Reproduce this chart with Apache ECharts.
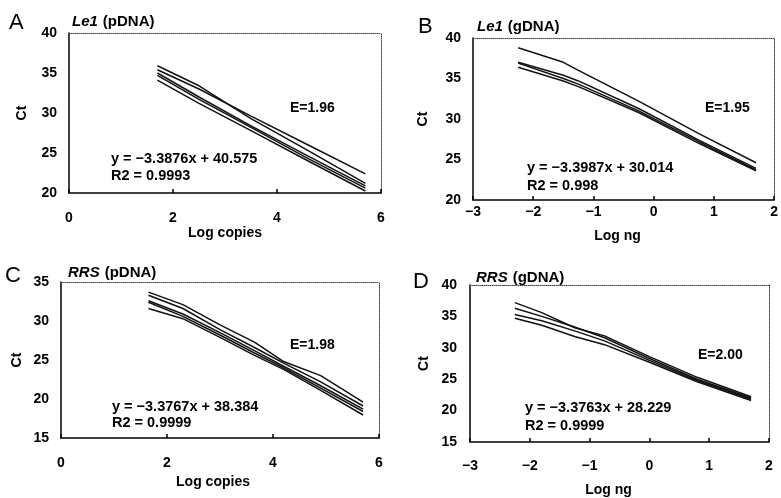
<!DOCTYPE html>
<html><head><meta charset="utf-8">
<script src="https://cdn.jsdelivr.net/npm/echarts@6/dist/echarts.min.js"></script>
<style>html,body{margin:0;padding:0;background:#fff}#c{width:781px;height:498px}</style>
</head><body><div id="c"></div>
<script>
// ---- data ----
const panelA_x = [1.7, 2.5, 3.5, 4.6, 5.7];
const panelA_r1 = [35.9, 33.4, 29.3, 25.3, 21.2];
const panelA_r2 = [35.4, 33.0, 29.6, 26.0, 22.4];
const panelA_r3 = [35.0, 32.0, 28.4, 24.6, 20.9];
const panelA_r4 = [34.7, 31.7, 28.2, 24.3, 20.6];
const panelA_r5 = [34.1, 31.2, 27.8, 24.0, 20.25];

const panelB_x = [-2.25, -1.5, -1.25, -0.25, 0.75, 1.7];
const panelB_r1 = [38.8, 37.0, 36.0, 32.2, 28.2, 24.6];
const panelB_r2 = [37.0, 35.4, 34.7, 31.3, 27.4, 23.9];
const panelB_r3 = [36.9, 35.0, 34.3, 31.0, 27.2, 23.7];
const panelB_r4 = [36.4, 34.7, 34.0, 30.8, 27.0, 23.6];

const panelC_x = [1.65, 2.3, 3.0, 3.65, 4.2, 4.9, 5.7];
const panelC_r1 = [33.7, 32.1, 29.5, 27.3, 24.8, 23.0, 19.6];
const panelC_r2 = [33.3, 31.6, 28.9, 26.6, 24.6, 22.2, 19.1];
const panelC_r3 = [32.6, 30.9, 28.5, 26.2, 24.2, 21.7, 18.7];
const panelC_r4 = [32.4, 30.6, 28.2, 25.9, 24.0, 21.4, 18.4];
const panelC_r5 = [31.6, 30.3, 27.9, 25.6, 23.8, 21.1, 17.95];

const panelD_x = [-2.25, -1.8, -1.25, -0.75, 0, 0.8, 1.7];
const panelD_r1 = [37.2, 35.6, 33.2, 31.9, 28.6, 25.3, 22.2];
const panelD_r2 = [36.3, 35.0, 33.3, 31.6, 28.3, 25.0, 22.0];
const panelD_r3 = [35.3, 34.3, 32.7, 31.1, 28.0, 24.8, 21.8];
const panelD_r4 = [34.7, 33.6, 31.8, 30.5, 27.7, 24.6, 21.6];

const panelLetters = ['A', 'B', 'C', 'D'];
const panelGenes = ['Le1', 'Le1', 'RRS', 'RRS'];
const panelTemplates = ['(pDNA)', '(gDNA)', '(pDNA)', '(gDNA)'];
const xNames = ['Log copies', 'Log ng', 'Log copies', 'Log ng'];
const yName = 'Ct';
const equations = ['y = −3.3876x + 40.575', 'y = −3.3987x + 30.014', 'y = −3.3767x + 38.384', 'y = −3.3763x + 28.229'];
const r2Texts = ['R2 = 0.9993', 'R2 = 0.998', 'R2 = 0.9999', 'R2 = 0.9999'];
const effTexts = ['E=1.96', 'E=1.95', 'E=1.98', 'E=2.00'];
const xRanges = [[0, 6, 2], [-3, 2, 1], [0, 6, 2], [-3, 2, 1]];
const yRanges = [[20, 40, 5], [20, 40, 5], [15, 35, 5], [15, 40, 5]];

// ---- layout ----
const FONT = '"Liberation Sans", Arial, sans-serif';
const grids = [
  {left: 69, top: 33, width: 312, height: 160},
  {left: 473, top: 38, width: 304, height: 162},
  {left: 61, top: 282, width: 318, height: 156},
  {left: 470, top: 285, width: 299, height: 164}
];
const xLabelMargin = [18, 5, 18, 17];
const xNameGap = [30, 29, 37, 41];
const xNamePad = [[0,0,0,0],[0,12,0,0],[0,14,0,0],[0,22,0,0]];
const yLabelMargin = [12, 12, 12, 13];
const yNameGap = [40, 43, 37, 39];
const titlePos = [[72, 13], [477, 18], [68, 264], [476, 269]];

const panelData = [
  [panelA_x, [panelA_r1, panelA_r2, panelA_r3, panelA_r4, panelA_r5]],
  [panelB_x, [panelB_r1, panelB_r2, panelB_r3, panelB_r4]],
  [panelC_x, [panelC_r1, panelC_r2, panelC_r3, panelC_r4, panelC_r5]],
  [panelD_x, [panelD_r1, panelD_r2, panelD_r3, panelD_r4]]
];

const fmt = v => String(v).replace('-', '−');
const lab = {color: '#000', fontFamily: FONT, fontWeight: 'bold', fontSize: 14};

const xAxis = [], yAxis = [], series = [], titles = [], graphic = [];
grids.forEach((g, i) => {
  const [xmin, xmax, xint] = xRanges[i];
  const [ymin, ymax, yint] = yRanges[i];
  xAxis.push({
    type: 'value', gridIndex: i, min: xmin, max: xmax, interval: xint, position: 'bottom',
    name: xNames[i], nameLocation: 'middle', nameGap: xNameGap[i],
    nameTextStyle: Object.assign({}, lab, {padding: xNamePad[i]}),
    axisLine: {onZero: false, lineStyle: {color: '#000', width: 1.5}},
    axisTick: {inside: true, length: 4, lineStyle: {color: '#000', width: 1.5}},
    axisLabel: Object.assign({}, lab, {margin: xLabelMargin[i], formatter: fmt}),
    splitLine: {show: false}
  });
  xAxis.push({
    type: 'value', gridIndex: i, min: xmin, max: xmax, position: 'top',
    axisLine: {onZero: false, lineStyle: {color: '#444', width: 1, type: 'dotted'}},
    axisTick: {show: false}, axisLabel: {show: false}, splitLine: {show: false}
  });
  yAxis.push({
    type: 'value', gridIndex: i, min: ymin, max: ymax, interval: yint, position: 'left',
    name: yName, nameLocation: 'middle', nameGap: yNameGap[i], nameRotate: 90,
    nameTextStyle: lab,
    axisLine: {show: true, onZero: false, lineStyle: {color: '#000', width: 1.5}},
    axisTick: {show: false},
    axisLabel: Object.assign({}, lab, {margin: yLabelMargin[i]}),
    splitLine: {show: false}
  });
  yAxis.push({
    type: 'value', gridIndex: i, min: ymin, max: ymax, position: 'right',
    axisLine: {show: true, onZero: false, lineStyle: {color: '#444', width: 1, type: 'dotted'}},
    axisTick: {show: false}, axisLabel: {show: false}, splitLine: {show: false}
  });
  const [xs, reps] = panelData[i];
  reps.forEach(r => {
    series.push({
      type: 'line', xAxisIndex: 2 * i, yAxisIndex: 2 * i, showSymbol: false, symbol: 'none',
      silent: true, animation: false,
      lineStyle: {color: '#111', width: 1.5},
      data: xs.map((x, k) => [x, r[k]])
    });
  });
  titles.push({
    left: titlePos[i][0], top: titlePos[i][1], padding: 0,
    text: '{i|' + panelGenes[i] + '} {n|' + panelTemplates[i] + '}',
    textStyle: {rich: {
      i: {fontFamily: FONT, fontStyle: 'italic', fontWeight: 'bold', fontSize: 15, color: '#000'},
      n: {fontFamily: FONT, fontSize: 15, color: '#000'}
    }}
  });
});

const letterPos = [[9, 12], [418, 16], [5, 265], [413, 271]];
const eqPos = [[111, 159], [527, 168], [112, 407], [525, 408]];
const r2Pos = [[111, 176], [527, 186], [112, 423], [525, 426]];
const ePos = [[290, 108], [705, 108], [290, 345], [698, 355]];
for (let i = 0; i < 4; i++) {
  graphic.push({type: 'text', left: letterPos[i][0], top: letterPos[i][1],
    style: {text: panelLetters[i], font: '22px ' + FONT, fill: '#000'}});
  graphic.push({type: 'text', x: eqPos[i][0], y: eqPos[i][1],
    style: {text: equations[i], font: 'bold 14.5px ' + FONT, fill: '#000', textVerticalAlign: 'middle'}});
  graphic.push({type: 'text', x: r2Pos[i][0], y: r2Pos[i][1],
    style: {text: r2Texts[i], font: 'bold 14.5px ' + FONT, fill: '#000', textVerticalAlign: 'middle'}});
  graphic.push({type: 'text', x: ePos[i][0], y: ePos[i][1],
    style: {text: effTexts[i], font: 'bold 14px ' + FONT, fill: '#000', textVerticalAlign: 'middle'}});
}

const chart = echarts.init(document.getElementById('c'), null, {renderer: 'canvas'});
chart.setOption({
  backgroundColor: '#fff',
  animation: false,
  title: titles,
  grid: grids,
  xAxis: xAxis,
  yAxis: yAxis,
  series: series,
  graphic: graphic
});
</script>
</body></html>
